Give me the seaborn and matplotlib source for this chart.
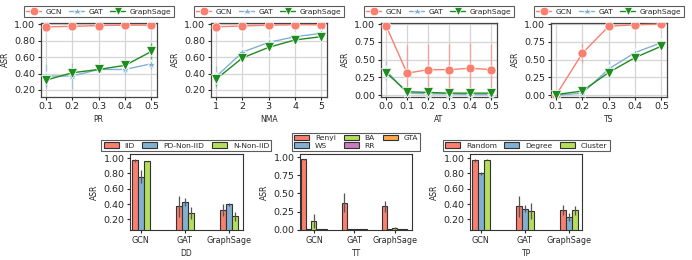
import numpy as np
import pandas as pd
import matplotlib
matplotlib.use("Agg")
import matplotlib.pyplot as plt
import seaborn as sns

# --- données ---
models = ["GCN", "GAT", "GraphSage"]

pr_x = [0.1, 0.2, 0.3, 0.4, 0.5]
pr_gcn = [0.97, 0.975, 0.985, 0.99, 0.99]
pr_gat = [0.37, 0.37, 0.45, 0.45, 0.52]
pr_sage = [0.32, 0.41, 0.45, 0.50, 0.67]
pr_gcn_sd = [0.01, 0.01, 0.01, 0.01, 0.01]
pr_gat_sd = [0.15, 0.16, 0.03, 0.05, 0.07]
pr_sage_sd = [0.07, 0.04, 0.03, 0.03, 0.10]

nma_x = [1, 2, 3, 4, 5]
nma_gcn = [0.97, 0.98, 0.99, 0.995, 0.995]
nma_gat = [0.36, 0.66, 0.78, 0.85, 0.89]
nma_sage = [0.33, 0.59, 0.72, 0.81, 0.85]
nma_gcn_sd = [0.01, 0.01, 0.01, 0.01, 0.01]
nma_gat_sd = [0.13, 0.03, 0.02, 0.02, 0.02]
nma_sage_sd = [0.08, 0.03, 0.03, 0.02, 0.02]

at_x = [0.0, 0.1, 0.2, 0.3, 0.4, 0.5]
at_gcn = [0.98, 0.31, 0.36, 0.36, 0.38, 0.36]
at_gat = [0.35, 0.03, 0.02, 0.02, 0.01, 0.01]
at_sage = [0.32, 0.05, 0.04, 0.03, 0.03, 0.03]
at_gcn_sd = [0.02, 0.39, 0.36, 0.36, 0.35, 0.36]
at_gat_sd = [0.13, 0.02, 0.01, 0.01, 0.01, 0.01]
at_sage_sd = [0.04, 0.02, 0.02, 0.01, 0.01, 0.01]

ts_x = [0.1, 0.2, 0.3, 0.4, 0.5]
ts_gcn = [0.0, 0.59, 0.97, 0.99, 1.0]
ts_gat = [0.0, 0.03, 0.37, 0.60, 0.74]
ts_sage = [0.01, 0.06, 0.32, 0.53, 0.69]
ts_gcn_sd = [0.01, 0.14, 0.02, 0.01, 0.01]
ts_gat_sd = [0.01, 0.02, 0.12, 0.03, 0.02]
ts_sage_sd = [0.01, 0.02, 0.03, 0.02, 0.02]

dd_levels = ["IID", "PD-Non-IID", "N-Non-IID"]
dd_iid = [0.97, 0.37, 0.32]
dd_pd = [0.76, 0.43, 0.40]
dd_n = [0.96, 0.28, 0.24]
dd_iid_sd = [0.02, 0.14, 0.08]
dd_pd_sd = [0.08, 0.05, 0.02]
dd_n_sd = [0.005, 0.08, 0.06]

tt_levels = ["Renyi", "WS", "BA", "RR", "GTA"]
tt_renyi = [0.97, 0.37, 0.32]
tt_ws = [0.005, 0.005, 0.005]
tt_ba = [0.12, 0.005, 0.02]
tt_rr = [0.005, 0.005, 0.005]
tt_gta = [0.005, 0.005, 0.005]
tt_renyi_sd = [0.01, 0.13, 0.07]
tt_ws_sd = [0.0, 0.0, 0.0]
tt_ba_sd = [0.10, 0.0, 0.01]
tt_rr_sd = [0.0, 0.0, 0.0]
tt_gta_sd = [0.0, 0.0, 0.0]

tp_levels = ["Random", "Degree", "Cluster"]
tp_random = [0.97, 0.37, 0.32]
tp_degree = [0.80, 0.34, 0.23]
tp_cluster = [0.98, 0.31, 0.32]
tp_random_sd = [0.02, 0.14, 0.07]
tp_degree_sd = [0.02, 0.05, 0.05]
tp_cluster_sd = [0.01, 0.11, 0.06]

LINE_COLORS = {"GCN": "#FA7F6F", "GAT": "#82B0D2", "GraphSage": "#1E8C1E"}
MARKERS = {"GCN": "o", "GAT": "*", "GraphSage": "v"}
BAR_COLORS = ["#FA7F6F", "#82B0D2", "#B5DE5C", "#C77CC0", "#FFA94D"]

sns.set_theme(style="ticks")
plt.rcParams["font.family"] = ["DejaVu Sans"]

W, H = 692, 260
fig = plt.figure(figsize=(W / 100, H / 100), dpi=100)


def px_axes(left, top, right, bottom):
    return fig.add_axes([left / W, 1 - bottom / H, (right - left) / W, (bottom - top) / H])


def line_panel(ax, x, series, sds, xlabel, yticks, ylim, xlim, fmt):
    rows = []
    for name, vals in zip(models, series):
        for xi, v in zip(x, vals):
            rows.append({"x": xi, "ASR": v, "model": name})
    df = pd.DataFrame(rows)
    for name, vals, sd in zip(models, series, sds):
        ax.errorbar(x, vals, yerr=sd, fmt="none", ecolor=LINE_COLORS[name],
                    alpha=0.55, elinewidth=1.0, capsize=0, zorder=2)
    sns.lineplot(data=df, x="x", y="ASR", hue="model", style="model",
                 palette=LINE_COLORS, markers=MARKERS, dashes=False,
                 markersize=6.5, markeredgewidth=0.5, linewidth=1.0,
                 ax=ax, zorder=3)
    ax.set_xticks(x)
    ax.set_xticklabels([fmt.format(v) for v in x])
    ax.set_yticks(yticks)
    ax.set_yticklabels([f"{v:.2f}" for v in yticks])
    ax.set_ylim(*ylim)
    ax.set_xlim(*xlim)
    ax.grid(True, color="#d5d5d5", linewidth=0.9)
    ax.set_axisbelow(True)
    ax.set_xlabel(xlabel, fontsize=5.5, labelpad=2.5)
    ax.set_ylabel("ASR", fontsize=5.5, labelpad=3)
    ax.tick_params(labelsize=6.8, length=2.5, width=0.8, pad=1.5)
    for s in ax.spines.values():
        s.set_color("#444444")
        s.set_linewidth(0.9)
    leg = ax.legend(loc="lower center", bbox_to_anchor=(0.5, 1.075), ncol=3,
                    fontsize=5.4, frameon=True, fancybox=False, borderaxespad=0,
                    handlelength=2.0, columnspacing=0.9, handletextpad=0.6,
                    borderpad=0.35, markerscale=0.95)
    leg.get_frame().set_edgecolor("#333333")
    leg.get_frame().set_linewidth(0.8)


def bar_panel(ax, levels, series, sds, xlabel, yticks, ylim, xlim, ncol, width):
    rows = []
    for lvl, vals in zip(levels, series):
        for m, v in zip(models, vals):
            rows.append({"model": m, "ASR": v, "group": lvl})
    df = pd.DataFrame(rows)
    sns.barplot(data=df, x="model", y="ASR", hue="group", hue_order=levels,
                palette=BAR_COLORS[:len(levels)], width=width, errorbar=None,
                edgecolor="#333333", linewidth=0.8, saturation=1, ax=ax)
    # barres d'erreur posées au centre de chaque barre
    bars = [p for p in ax.patches if p.get_width() > 0][:len(levels) * len(models)]
    sd_flat = [s for sd in sds for s in sd]
    for p, s in zip(bars, sd_flat):
        if s > 0:
            cx = p.get_x() + p.get_width() / 2
            top = p.get_y() + p.get_height()
            ax.vlines(cx, top - s, top + s, color="#555555", linewidth=0.9, zorder=4)
    ax.set_yticks(yticks)
    ax.set_yticklabels([f"{v:.2f}" for v in yticks])
    ax.set_ylim(*ylim)
    ax.set_xlim(*xlim)
    ax.set_xlabel(xlabel, fontsize=5.5, labelpad=3)
    ax.set_ylabel("ASR", fontsize=5.5, labelpad=3)
    ax.tick_params(axis="y", labelsize=6.8, length=2.5, width=0.8, pad=1.5)
    ax.tick_params(axis="x", labelsize=5.8, length=2.5, width=0.8, pad=1.5)
    for s in ax.spines.values():
        s.set_color("#333333")
        s.set_linewidth(0.8)
    leg = ax.legend(loc="lower center", bbox_to_anchor=(0.5, 1.04), ncol=ncol,
                    fontsize=5.4, frameon=True, fancybox=False, borderaxespad=0,
                    handlelength=2.0, columnspacing=1.0, handletextpad=0.8,
                    borderpad=0.3, labelspacing=0.15)
    leg.get_frame().set_edgecolor("#333333")
    leg.get_frame().set_linewidth(0.8)


ax1 = px_axes(40.7, 22.7, 156.7, 96.7)
line_panel(ax1, pr_x, [pr_gcn, pr_gat, pr_sage], [pr_gcn_sd, pr_gat_sd, pr_sage_sd],
           "PR", [0.2, 0.4, 0.6, 0.8, 1.0], (0.118, 1.02), (0.08, 0.52), "{:.1f}")
ax2 = px_axes(210.7, 22.7, 326.7, 96.7)
line_panel(ax2, nma_x, [nma_gcn, nma_gat, nma_sage], [nma_gcn_sd, nma_gat_sd, nma_sage_sd],
           "NMA", [0.2, 0.4, 0.6, 0.8, 1.0], (0.118, 1.02), (0.8, 5.2), "{:d}")
ax3 = px_axes(380.7, 22.7, 496.7, 96.7)
line_panel(ax3, at_x, [at_gcn, at_gat, at_sage], [at_gcn_sd, at_gat_sd, at_sage_sd],
           "AT", [0.0, 0.25, 0.5, 0.75, 1.0], (-0.02, 1.02), (-0.025, 0.525), "{:.1f}")
ax4 = px_axes(550.7, 22.7, 666.7, 96.7)
line_panel(ax4, ts_x, [ts_gcn, ts_gat, ts_sage], [ts_gcn_sd, ts_gat_sd, ts_sage_sd],
           "TS", [0.0, 0.25, 0.5, 0.75, 1.0], (-0.02, 1.02), (0.08, 0.52), "{:.1f}")

bx1 = px_axes(130, 154, 242.7, 230)
bar_panel(bx1, dd_levels, [dd_iid, dd_pd, dd_n], [dd_iid_sd, dd_pd_sd, dd_n_sd],
          "DD", [0.2, 0.4, 0.6, 0.8, 1.0], (0.06, 1.055), (-0.245, 2.32), 3, 0.41)
bx2 = px_axes(300, 154, 412.3, 230)
bar_panel(bx2, tt_levels, [tt_renyi, tt_ws, tt_ba, tt_rr, tt_gta],
          [tt_renyi_sd, tt_ws_sd, tt_ba_sd, tt_rr_sd, tt_gta_sd],
          "TT", [0.0, 0.25, 0.5, 0.75, 1.0], (-0.005, 1.045), (-0.345, 2.43), 3, 0.62)
bx3 = px_axes(470, 154, 582.3, 230)
bar_panel(bx3, tp_levels, [tp_random, tp_degree, tp_cluster],
          [tp_random_sd, tp_degree_sd, tp_cluster_sd],
          "TP", [0.2, 0.4, 0.6, 0.8, 1.0], (0.06, 1.055), (-0.245, 2.31), 3, 0.41)

fig.savefig("out.png", dpi=100)
